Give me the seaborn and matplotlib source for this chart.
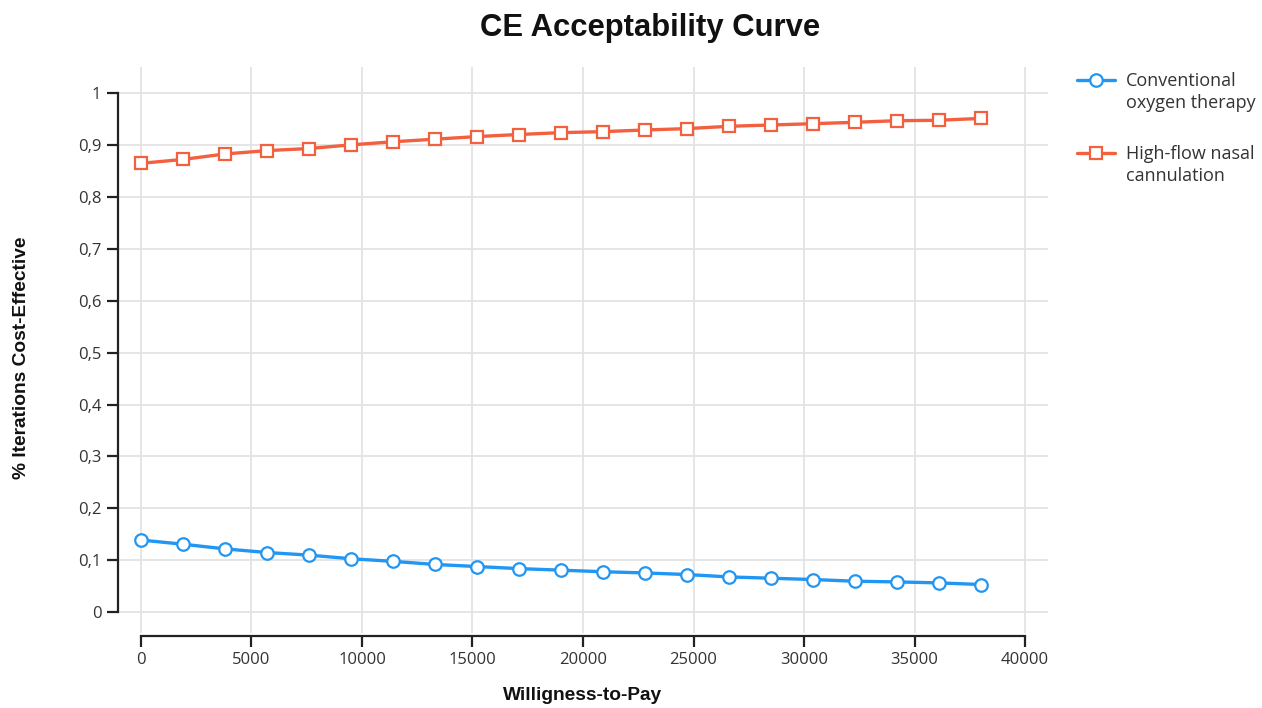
import matplotlib
matplotlib.use("Agg")
import matplotlib.pyplot as plt
import seaborn as sns
import pandas as pd
import numpy as np

# ---- data ----
wtp = [0, 1900, 3800, 5700, 7600, 9500, 11400, 13300, 15200, 17100, 19000,
       20900, 22800, 24700, 26600, 28500, 30400, 32300, 34200, 36100, 38000]
conventional = [0.139, 0.131, 0.122, 0.115, 0.110, 0.103, 0.098, 0.092, 0.088, 0.084, 0.081,
                0.078, 0.0757, 0.0726, 0.068, 0.0655, 0.063, 0.0597, 0.0584, 0.0565, 0.0534]
high_flow = [0.8645, 0.872, 0.8825, 0.889, 0.893, 0.900, 0.906, 0.911, 0.916, 0.920, 0.9236,
             0.9255, 0.9287, 0.9313, 0.9358, 0.9383, 0.9408, 0.9435, 0.9466, 0.9474, 0.951]
series_first = ["Conventional", "High-flow nasal"]
series_second = ["oxygen therapy", "cannulation"]
x_ticks = [0, 5000, 10000, 15000, 20000, 25000, 30000, 35000, 40000]
x_tick_labels = ["0", "5000", "10000", "15000", "20000", "25000", "30000", "35000", "40000"]
y_ticks = [0, 0.1, 0.2, 0.3, 0.4, 0.5, 0.6, 0.7, 0.8, 0.9, 1.0]
y_tick_labels = ["0", "0,1", "0,2", "0,3", "0,4", "0,5", "0,6", "0,7", "0,8", "0,9", "1"]

colors = ["#2196f3", "#f2603f"]
markers = ["o", "s"]

sns.set_theme(style="white")
plt.rcParams["font.family"] = ["Open Sans", "DejaVu Sans"]

fig = plt.figure(figsize=(12.62, 7.08), dpi=100)
ax = fig.add_axes([118 / 1262, 1 - 633 / 708, (1048 - 118) / 1262, (633 - 67) / 708])

for name, vals, c, m in zip(series_first, [conventional, high_flow], colors, markers):
    df = pd.DataFrame({"wtp": wtp, "p": vals})
    sns.lineplot(data=df, x="wtp", y="p", ax=ax, color=c, marker=m, linewidth=2.4,
                 markersize=9 if m == "o" else 8.2, markerfacecolor="white",
                 markeredgecolor=c, markeredgewidth=1.6, label=name)

ax.set_xlim(-1040, 41040)
ax.set_ylim(-0.04, 1.05)
ax.set_xticks(x_ticks)
ax.set_xticklabels(x_tick_labels)
ax.set_yticks(y_ticks)
ax.set_yticklabels(y_tick_labels)

ax.grid(True, color="#e3e3e3", linewidth=1.3)
ax.set_axisbelow(True)
for s in ["top", "right"]:
    ax.spines[s].set_visible(False)
ax.spines["left"].set_bounds(0, 1)
ax.spines["bottom"].set_bounds(0, 40000)
ax.spines["bottom"].set_position(("outward", 2))
for s in ["left", "bottom"]:
    ax.spines[s].set_color("#222222")
    ax.spines[s].set_linewidth(1.6)
ax.tick_params(axis="both", which="major", direction="out", length=8, width=1.6,
               color="#222222", labelsize=12, labelcolor="#333333", pad=4,
               bottom=True, left=True)

ax.set_xlabel("")
ax.set_ylabel("")
bold_fam = ["Liberation Sans", "DejaVu Sans"]
fig.text(583 / 1262, 1 - 695 / 708, "Willigness-to-Pay", ha="center", va="center",
         fontsize=13.8, fontweight="bold", family=bold_fam, color="#111111")
fig.text(22 / 1262, 1 - 358 / 708, "% Iterations Cost-Effective", ha="center", va="center",
         rotation=90, fontsize=13.8, fontweight="bold", family=bold_fam, color="#111111")
fig.text(650 / 1262, 1 - 28 / 708, "CE Acceptability Curve", ha="center", va="center",
         fontsize=22.3, fontweight="bold", family=bold_fam, color="#111111")

leg_fs = 13
leg = ax.legend(loc="upper left", bbox_to_anchor=(1077 / 1262, 1 - 72 / 708),
                bbox_transform=fig.transFigure, frameon=False, fontsize=leg_fs,
                labelspacing=3.05, handlelength=2.1, handletextpad=0.6, borderaxespad=0,
                borderpad=0)
for t in leg.get_texts():
    t.set_color("#333333")

fig.canvas.draw()
renderer = fig.canvas.get_renderer()
for t, second in zip(leg.get_texts(), series_second):
    bb = t.get_window_extent(renderer)
    x0, y0 = fig.transFigure.inverted().transform((bb.x0, bb.y0 - 22))
    fig.text(x0, y0, second, ha="left", va="bottom", fontsize=leg_fs, color="#333333")

fig.savefig("out.png", dpi=100, facecolor="white")
